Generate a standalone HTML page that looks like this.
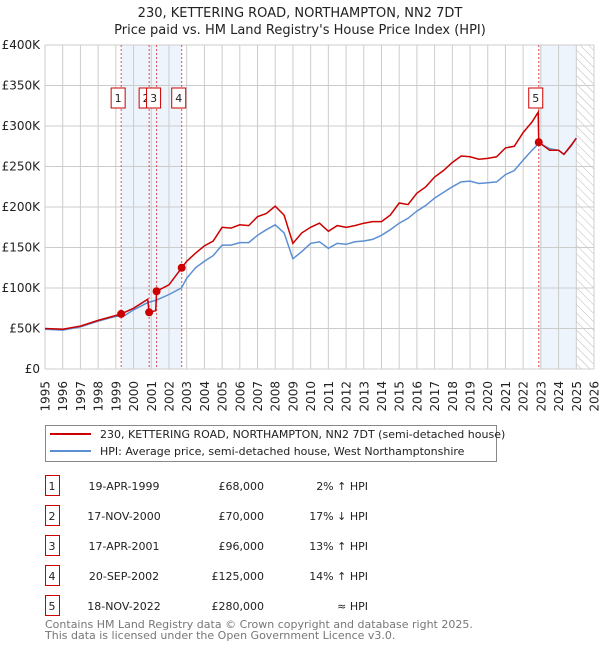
<!DOCTYPE html>
<html><head><meta charset="utf-8"><style>
body{margin:0;background:#fff;font-family:"DejaVu Sans","Liberation Sans",sans-serif;}
#wrap{position:relative;width:600px;height:650px;}
</style></head><body>
<div id="wrap">
<svg id="chart" width="600" height="650" xmlns="http://www.w3.org/2000/svg" font-family="DejaVu Sans, Liberation Sans, sans-serif">
<defs><pattern id="hatch" width="6" height="6" patternUnits="userSpaceOnUse" patternTransform="rotate(-45)"><line x1="0" y1="0" x2="0" y2="6" stroke="#bbb" stroke-width="1"/></pattern></defs>
<text x="300" y="17" text-anchor="middle" font-size="13" fill="#222">230, KETTERING ROAD, NORTHAMPTON, NN2 7DT</text>
<text x="300" y="34" text-anchor="middle" font-size="13" fill="#222">Price paid vs. HM Land Registry's House Price Index (HPI)</text>
<g id="plot"></g>
</svg>
<svg style="position:absolute;left:0;top:0" width="600" height="650" font-family="DejaVu Sans, Liberation Sans, sans-serif">
<rect x="45.5" y="425.5" width="451" height="36" fill="#fff" stroke="#888"/>
<line x1="50" y1="434" x2="91" y2="434" stroke="#cc0000" stroke-width="2"/>
<text x="100" y="438" font-size="11" fill="#222">230, KETTERING ROAD, NORTHAMPTON, NN2 7DT (semi-detached house)</text>
<line x1="50" y1="451" x2="91" y2="451" stroke="#5b8fd4" stroke-width="2"/>
<text x="100" y="455" font-size="11" fill="#222">HPI: Average price, semi-detached house, West Northamptonshire</text>
<g id="table" font-size="11" fill="#222"></g>
<text x="45" y="628" font-size="11" fill="#777">Contains HM Land Registry data © Crown copyright and database right 2025.</text>
<text x="45" y="639" font-size="11" fill="#777">This data is licensed under the Open Government Licence v3.0.</text>
</svg>
</div>
<script>
const hpiYears=[1995,1996,1997,1998,1999,1999.5,2000,2000.8,2001.3,2002,2002.7,2003,2003.5,2004,2004.5,2005,2005.5,2006,2006.5,2007,2007.5,2008,2008.5,2009,2009.5,2010,2010.5,2011,2011.5,2012,2012.5,2013,2013.5,2014,2014.5,2015,2015.5,2016,2016.5,2017,2017.5,2018,2018.5,2019,2019.5,2020,2020.5,2021,2021.5,2022,2022.5,2022.9,2023.5,2024,2024.3,2024.7,2025];
const hpiValues=[49,48,52,59,65,66,73,82,85,92,100,112,125,133,140,153,153,156,156,165,172,178,168,136,145,155,157,149,155,154,157,158,160,165,172,180,186,195,202,211,218,225,231,232,229,230,231,240,245,258,270,279,272,270,265,275,285];
const priceYears=[1995,1996,1997,1998,1999,1999.3,2000,2000.8,2000.88,2001.25,2001.3,2002,2002.72,2003,2003.5,2004,2004.5,2005,2005.5,2006,2006.5,2007,2007.5,2008,2008.5,2009,2009.5,2010,2010.5,2011,2011.5,2012,2012.5,2013,2013.5,2014,2014.5,2015,2015.5,2016,2016.5,2017,2017.5,2018,2018.5,2019,2019.5,2020,2020.5,2021,2021.5,2022,2022.5,2022.85,2022.88,2023.5,2024,2024.3,2024.7,2025];
const priceValues=[50,49,53,60,66,68,75,86,70,72,96,104,125,133,143,152,158,175,174,178,177,188,192,201,190,155,168,175,180,170,177,175,177,180,182,182,190,205,203,217,225,237,245,255,263,262,259,260,262,273,275,292,305,317,280,270,270,265,276,285];
const saleYears=[1999.3,2000.88,2001.3,2002.72,2022.88];
const saleValues=[68,70,96,125,280];
const saleLabels=["1","2","3","4","5"];
const saleDates=["19-APR-1999","17-NOV-2000","17-APR-2001","20-SEP-2002","18-NOV-2022"];
const salePrices=["£68,000","£70,000","£96,000","£125,000","£280,000"];
const saleHpi=["2% ↑ HPI","17% ↓ HPI","13% ↑ HPI","14% ↑ HPI","≈ HPI"];
const yTicks=[0,50,100,150,200,250,300,350,400];
const yTickLabels=["£0","£50K","£100K","£150K","£200K","£250K","£300K","£350K","£400K"];
const xTicks=[1995,1996,1997,1998,1999,2000,2001,2002,2003,2004,2005,2006,2007,2008,2009,2010,2011,2012,2013,2014,2015,2016,2017,2018,2019,2020,2021,2022,2023,2024,2025,2026];

const L=45,R=594,T=45,B=369;
const x=y=>L+(y-1995)/(2026-1995)*(R-L);
const yv=v=>B-v/400*(B-T);
const NS="http://www.w3.org/2000/svg";
const g=document.getElementById('plot');
function mk(tag,attrs,parent){const e=document.createElementNS(NS,tag);for(const k in attrs)e.setAttribute(k,attrs[k]);(parent||g).appendChild(e);return e;}
let b=mk('rect',{x:x(saleYears[0]),y:T,width:x(saleYears[3])-x(saleYears[0]),height:B-T,fill:'#eef4fc'});


b=mk('rect',{x:x(saleYears[4]),y:T,width:x(2025)-x(saleYears[4]),height:B-T,fill:'#eef4fc'});


b=mk('rect',{x:x(2025),y:T,width:x(2026)-x(2025),height:B-T,fill:'url(#hatch)'});


xTicks.forEach(t=>{const l=mk('line',{x1:x(t),x2:x(t),y1:T,y2:B,stroke:'#ccc','stroke-width':1});


const tx=mk('text',{x:0,y:0,'text-anchor':'end','font-size':12,fill:'#222',transform:'translate('+(x(t)+4.5)+','+(B+12)+') rotate(-90)'});tx.textContent=t;

});
yTicks.forEach((t,i)=>{const l=mk('line',{x1:L,x2:R,y1:yv(t),y2:yv(t),stroke:'#ccc','stroke-width':1});


const tx=mk('text',{x:L-5,y:yv(t)+4,'text-anchor':'end','font-size':12,fill:'#222'});tx.textContent=yTickLabels[i];

});
saleYears.forEach(s=>{const l=mk('line',{x1:x(s),x2:x(s),y1:T,y2:B,stroke:'#e05050','stroke-width':1,'stroke-dasharray':'2,2'});

});
const path=(xs,vs)=>xs.map((t,i)=>(i?'L':'M')+x(t).toFixed(1)+','+yv(vs[i]).toFixed(1)).join('');
let p=mk('path',{d:path(hpiYears,hpiValues),fill:'none',stroke:'#5b8fd4','stroke-width':1.5});


p=mk('path',{d:path(priceYears,priceValues),fill:'none',stroke:'#cc0000','stroke-width':1.5});


saleYears.forEach((s,i)=>{const c=mk('circle',{cx:x(s),cy:yv(saleValues[i]),r:4,fill:'#cc0000'});


const r=mk('rect',{x:x(s)-10,y:88,width:14,height:20,fill:'#fff',stroke:'#cc0000'});


const tx=mk('text',{x:x(s)-3,y:102,'text-anchor':'middle','font-size':11,fill:'#222'});tx.textContent=saleLabels[i];

});
const tb=document.getElementById('table');
saleLabels.forEach((lab,i)=>{const y0=495+i*30;
const r=mk('rect',{x:45.5,y:y0-19.5,width:14,height:20,fill:'#fff',stroke:'#cc0000'},tb);


const cells=[[52,'middle',lab,'table-number'],[124,'middle',saleDates[i],'table-date'],[264,'end',salePrices[i],'table-price'],[368,'end',saleHpi[i],'table-hpi']];
cells.forEach(c=>{const t=mk('text',{x:c[0],y:y0-5,'text-anchor':c[1],'font-size':11},tb);t.textContent=c[2];

});});
</script>
</body></html>
